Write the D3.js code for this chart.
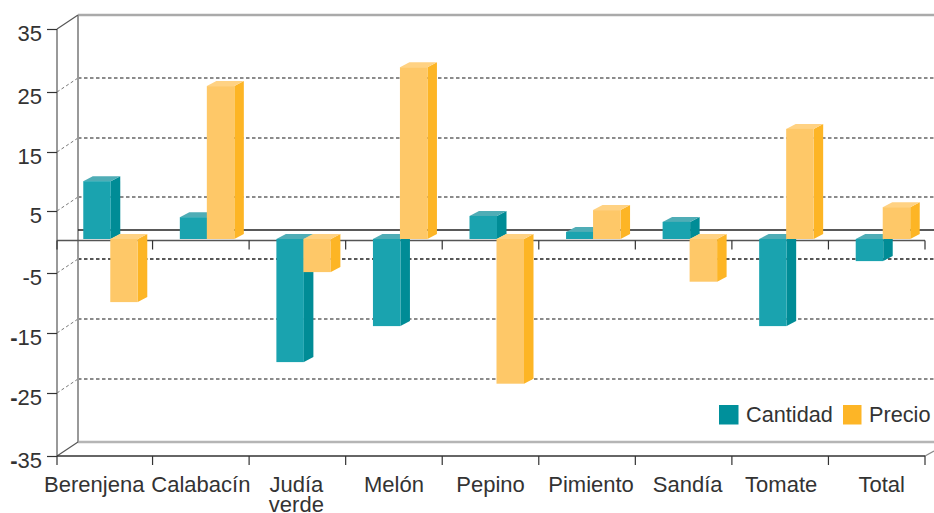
<!DOCTYPE html>
<html lang="es">
<head>
<meta charset="utf-8">
<title>Cantidad y precio por producto</title>
<script src="https://cdn.jsdelivr.net/npm/d3@7/dist/d3.min.js"></script>
<style>
  html, body { margin: 0; padding: 0; background: #fff; }
  svg { display: block; }
  text { font-family: "Liberation Sans", Arial, sans-serif; fill: #333; }
</style>
</head>
<body>
<svg id="chart" width="934" height="513"></svg>
<script>
const categories = ["Berenjena", "Calabacín", "Judía verde", "Melón", "Pepino", "Pimiento", "Sandía", "Tomate", "Total"];
const seriesNames = ["Cantidad", "Precio"];
const cantidad = [9.8, 3.7, -20.1, -14.1, 3.9, 1.2, 2.9, -14.1, -3.4];
const precio = [-10.1, 25.7, -5.1, 28.7, -23.7, 4.9, -6.7, 18.6, 5.4];
const yTicks = [-35, -25, -15, -5, 5, 15, 25, 35];

const palette = {
  Cantidad: { front: "#1aa3af", side: "#008c96", top: "#4fadb6", key: "#00909b" },
  Precio: { front: "#fec868", side: "#fdb525", top: "#ffd283", key: "#fdb526" }
};

const svg = d3.select("#chart");

// Floor and wall offset of the pseudo-3D box, and depth of each bar.
const wall = { dx: 21, dy: -14 };
const depth = { dx: 9.5, dy: -5 };
const xLeft = 57, xRight = 925, canvasRight = 934;

const x = d3.scaleBand().domain(categories).range([56, xRight]);
const y = d3.scaleLinear()
  .domain([-35, -25, -15, -5, 0, 5, 15, 25, 35])
  .range([456, 393, 333, 273, 240.5, 211, 152, 92, 29]);
const barShift = -1.5;
const sub = d3.scaleBand().domain(seriesNames).range([-21, 33]);

// Back wall: frame, dashed gridlines and the dashed returns to the front axis.
const back = svg.append("g");
back.selectAll("line.grid").data(yTicks.filter(d => Math.abs(d) < 35)).join("line")
  .attr("class", "grid")
  .attr("x1", xLeft + wall.dx).attr("x2", canvasRight)
  .attr("y1", d => y(d) + wall.dy).attr("y2", d => y(d) + wall.dy)
  .attr("stroke", d => d === -5 ? "#222" : "#666")
  .attr("stroke-width", 1.4)
  .attr("stroke-dasharray", "3.5 2.5");
back.selectAll("line.ret").data(yTicks.filter(d => Math.abs(d) < 35)).join("line")
  .attr("class", "ret")
  .attr("x1", xLeft).attr("x2", xLeft + wall.dx)
  .attr("y1", d => y(d)).attr("y2", d => y(d) + wall.dy)
  .attr("stroke", "#777").attr("stroke-width", 1).attr("stroke-dasharray", "3 2.5");

back.append("line")
  .attr("x1", xLeft + wall.dx).attr("x2", canvasRight)
  .attr("y1", y(35) + wall.dy).attr("y2", y(35) + wall.dy)
  .attr("stroke", "#aaa").attr("stroke-width", 2.5);
back.append("line")
  .attr("x1", xLeft + wall.dx).attr("x2", canvasRight)
  .attr("y1", y(-35) + wall.dy).attr("y2", y(-35) + wall.dy)
  .attr("stroke", "#b5b5b5").attr("stroke-width", 2.5);
back.append("line")
  .attr("x1", xLeft + wall.dx).attr("x2", xLeft + wall.dx)
  .attr("y1", y(35) + wall.dy).attr("y2", y(-35) + wall.dy)
  .attr("stroke", "#999").attr("stroke-width", 2);
back.append("line")
  .attr("x1", xLeft).attr("x2", xLeft)
  .attr("y1", y(35)).attr("y2", y(-35))
  .attr("stroke", "#777").attr("stroke-width", 1.5);
[35, -35].forEach(v => back.append("line")
  .attr("x1", xLeft).attr("x2", xLeft + wall.dx)
  .attr("y1", y(v)).attr("y2", y(v) + wall.dy)
  .attr("stroke", "#555").attr("stroke-width", 1.2));
back.append("line")
  .attr("x1", xRight).attr("x2", canvasRight)
  .attr("y1", y(-35)).attr("y2", y(-35) - 5)
  .attr("stroke", "#888").attr("stroke-width", 1.2);

// Zero planes: the line on the back wall and the front baseline with its ticks.
back.append("line")
  .attr("x1", xLeft + wall.dx).attr("x2", canvasRight)
  .attr("y1", y(0) + wall.dy + 3.5).attr("y2", y(0) + wall.dy + 3.5)
  .attr("stroke", "#222").attr("stroke-width", 1.3);

const edges = categories.map(c => x(c)).concat(xRight);
edges[0] = xLeft;
back.append("line")
  .attr("x1", xLeft).attr("x2", xRight)
  .attr("y1", y(0)).attr("y2", y(0))
  .attr("stroke", "#555").attr("stroke-width", 1.4);
back.selectAll("line.zero-tick").data(edges).join("line")
  .attr("class", "zero-tick")
  .attr("x1", d => d).attr("x2", d => d)
  .attr("y1", y(0)).attr("y2", y(0) + 9)
  .attr("stroke", "#333").attr("stroke-width", 1.2);

// Bars as three faces; Precio is painted last so that it overlaps Cantidad.
const rows = categories.map((c, i) => ({ c, Cantidad: cantidad[i], Precio: precio[i] }));
const bars = svg.append("g");
rows.forEach(row => {
  seriesNames.forEach(name => {
    const v = row[name];
    const colors = palette[name];
    const x0 = x(row.c) + x.bandwidth() / 2 + sub(name);
    const x1 = x0 + sub.bandwidth() + 0.5;
    const yBase = y(0) + barShift;
    const yEnd = y(v) + barShift;
    const yHi = Math.min(yBase, yEnd), yLo = Math.max(yBase, yEnd);
    const g = bars.append("g");
    g.append("path").attr("fill", colors.side)
      .attr("d", d3.line()([[x1, yHi], [x1 + depth.dx, yHi + depth.dy], [x1 + depth.dx, yLo + depth.dy], [x1, yLo]]) + "Z");
    g.append("path").attr("fill", colors.top)
      .attr("d", d3.line()([[x0, yHi], [x0 + depth.dx, yHi + depth.dy], [x1 + depth.dx, yHi + depth.dy], [x1, yHi]]) + "Z");
    g.append("rect").attr("fill", colors.front)
      .attr("x", x0).attr("y", yHi).attr("width", x1 - x0).attr("height", yLo - yHi);
  });
});

// Value axis labelled on the front plane; the minus signs are set heavier.
const yAxis = svg.append("g")
  .attr("transform", `translate(${xLeft},0)`)
  .call(d3.axisLeft(y).tickValues(yTicks).tickSize(10).tickPadding(5).tickFormat(d => ""));
yAxis.select(".domain").remove();
yAxis.selectAll(".tick line").attr("stroke", "#333").attr("stroke-width", 1.2);
yAxis.selectAll(".tick text").each(function (d) {
  const t = d3.select(this).attr("font-size", 22).attr("dy", "0.5em").attr("font-family", null).attr("fill", "#333");
  if (d < 0) t.append("tspan").attr("font-weight", d === -5 ? "normal" : "bold").text("-");
  t.append("tspan").text(Math.abs(d));
});

// Category axis along the floor; a few labels sit slightly off their band centre.
const labelNudge = { "Berenjena": -10, "Judía verde": -1, "Pimiento": 4, "Sandía": 4, "Tomate": 1, "Total": 5 };
const xAxis = svg.append("g")
  .attr("transform", `translate(0,${y(-35)})`)
  .call(d3.axisBottom(x).tickValues([]).tickSizeOuter(0));
xAxis.select(".domain").attr("stroke", "#333").attr("stroke-width", 1.4)
  .attr("d", `M${xLeft},0H${xRight}`);
xAxis.selectAll("line.floor-tick").data(edges).join("line")
  .attr("class", "floor-tick")
  .attr("x1", d => d).attr("x2", d => d).attr("y1", 0).attr("y2", 9)
  .attr("stroke", "#333").attr("stroke-width", 1.2);
xAxis.selectAll("text.cat").data(categories).join("text")
  .attr("class", "cat")
  .attr("text-anchor", "middle")
  .attr("font-size", 22)
  .attr("transform", d => `translate(${x(d) + x.bandwidth() / 2 + (labelNudge[d] || 0)},36)`)
  .each(function (d) {
    const words = d.split(" ");
    d3.select(this).selectAll("tspan").data(words).join("tspan")
      .attr("x", 0).attr("dy", (w, i) => i ? 20 : 0).text(w => w);
  });

// Legend inside the lower right of the plot.
const legendItems = [
  { name: "Cantidad", sw: 719, size: 19.5, tx: 746 },
  { name: "Precio", sw: 843, size: 18.5, tx: 869 }
];
const legend = svg.append("g");
legendItems.forEach(it => {
  legend.append("rect").attr("x", it.sw).attr("y", 405).attr("width", it.size).attr("height", 19.5)
    .attr("fill", palette[it.name].key);
  legend.append("text").attr("x", it.tx).attr("y", 422).attr("font-size", 21.7).text(it.name);
});
</script>
</body>
</html>
